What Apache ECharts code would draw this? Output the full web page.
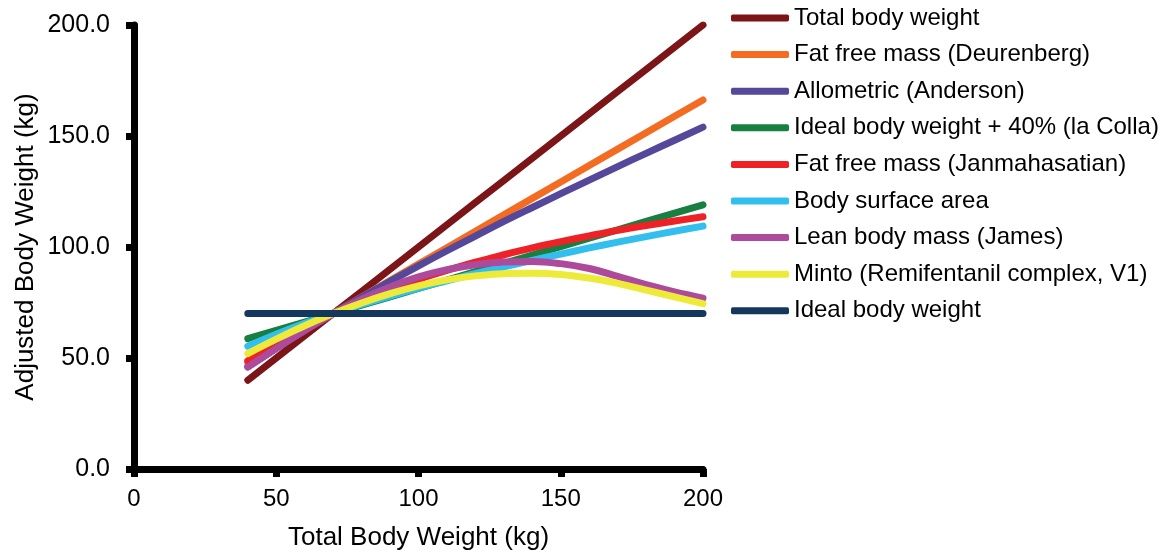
<!DOCTYPE html>
<html>
<head>
<meta charset="utf-8">
<script src="https://cdn.jsdelivr.net/npm/echarts@6/dist/echarts.min.js"></script>
<style>
html,body{margin:0;padding:0;background:#fff;}
#chart{width:1163px;height:559px;}
</style>
</head>
<body>
<div id="chart"></div>
<script>
// Total body weight (kg) on the x axis
const weights = [40, 50, 60, 70, 80, 90, 100, 110, 120, 130, 140, 150, 160, 170, 180, 190, 200];

const seriesNames = [
  'Total body weight',
  'Fat free mass (Deurenberg)',
  'Allometric (Anderson)',
  'Ideal body weight + 40% (la Colla)',
  'Fat free mass (Janmahasatian)',
  'Body surface area',
  'Lean body mass (James)',
  'Minto (Remifentanil complex, V1)',
  'Ideal body weight'
];

const totalBodyWeight = [40, 50, 60, 70, 80, 90, 100, 110, 120, 130, 140, 150, 160, 170, 180, 190, 200];
const ffmDeurenberg   = [47.8, 55.2, 62.6, 70, 77.5, 84.9, 92.3, 99.7, 107.1, 114.5, 121.9, 129.3, 136.7, 144.1, 151.5, 158.9, 166.2];
const allometric      = [46.0, 54.4, 62.4, 70, 77.4, 84.5, 91.5, 98.3, 104.9, 111.5, 117.8, 124.0, 130.1, 136.2, 142.2, 148.1, 154.0];
const ibwPlus40       = [58.7, 62.5, 66.2, 70, 73.8, 77.5, 81.3, 85.1, 88.9, 92.6, 96.4, 100.2, 104.0, 107.7, 111.5, 115.3, 119.0];
const ffmJanmahasatian= [48.7, 57.0, 64.0, 70, 76.0, 81.0, 85.5, 89.5, 93.2, 96.5, 99.6, 102.4, 105.0, 107.5, 109.7, 111.7, 113.6];
const bodySurfaceArea = [55.3, 60.7, 65.6, 70, 74.1, 77.9, 81.5, 84.8, 88.1, 91.1, 94.0, 96.8, 99.6, 102.2, 104.7, 107.1, 109.4];
const lbmJames        = [45.9, 54.3, 62.4, 70, 76.5, 82.0, 86.5, 89.8, 92.0, 93.2, 93.5, 92.5, 90.3, 86.8, 83.0, 79.8, 77.0];
const mintoV1         = [52.0, 58.5, 64.5, 70, 74.8, 79.0, 82.5, 85.2, 87.0, 88.0, 88.2, 87.6, 86.0, 83.6, 80.6, 77.5, 74.5];
const idealBodyWeight = [70, 70, 70, 70, 70, 70, 70, 70, 70, 70, 70, 70, 70, 70, 70, 70, 70];

const seriesValues = [totalBodyWeight, ffmDeurenberg, allometric, ibwPlus40, ffmJanmahasatian,
                      bodySurfaceArea, lbmJames, mintoV1, idealBodyWeight];
const seriesColors = ['#7B1518', '#F36C21', '#55489B', '#177F3F', '#EE2226',
                      '#33BFEE', '#AD4A9B', '#EEEA3A', '#14375D'];
const smoothFlags = [false, false, true, false, true, true, true, true, false];

const xTicks = [0, 50, 100, 150, 200];
const yTicks = [0, 50, 100, 150, 200];

const FONT = '"Liberation Sans", Arial, sans-serif';

const chart = echarts.init(document.getElementById('chart'), null, {renderer: 'canvas'});

const series = seriesNames.map((name, i) => ({
  name: name,
  type: 'line',
  data: weights.map((w, j) => [w, seriesValues[i][j]]),
  showSymbol: false,
  symbol: 'none',
  smooth: smoothFlags[i] ? 0.4 : false,
  color: seriesColors[i],
  lineStyle: {width: 7, color: seriesColors[i], cap: 'round', join: 'round'},
  emphasis: {disabled: true},
  animation: false
}));

chart.setOption({
  animation: false,
  backgroundColor: '#ffffff',
  grid: {left: 134, right: 460, top: 25, bottom: 90, containLabel: false},
  xAxis: {
    type: 'value',
    min: xTicks[0],
    max: xTicks[xTicks.length - 1],
    interval: xTicks[1] - xTicks[0],
    name: 'Total Body Weight (kg)',
    nameLocation: 'middle',
    nameGap: 56,
    nameTextStyle: {fontSize: 26, color: '#000', fontFamily: FONT},
    axisLine: {show: true, lineStyle: {color: '#000', width: 7}},
    axisTick: {show: true, length: 8, lineStyle: {color: '#000', width: 7}},
    axisLabel: {fontSize: 24, color: '#000', fontFamily: FONT, margin: 18},
    splitLine: {show: false}
  },
  yAxis: {
    type: 'value',
    min: yTicks[0],
    max: yTicks[yTicks.length - 1],
    interval: yTicks[1] - yTicks[0],
    name: 'Adjusted Body Weight (kg)',
    nameLocation: 'middle',
    nameGap: 95,
    nameTextStyle: {fontSize: 26, color: '#000', fontFamily: FONT},
    axisLine: {show: true, lineStyle: {color: '#000', width: 7}},
    axisTick: {show: true, length: 8, lineStyle: {color: '#000', width: 7}},
    axisLabel: {fontSize: 25, color: '#000', fontFamily: FONT, margin: 24,
                formatter: v => v.toFixed(1)},
    splitLine: {show: false}
  },
  legend: {
    orient: 'vertical',
    left: 731,
    top: 6,
    icon: 'roundRect',
    itemWidth: 58,
    itemHeight: 7,
    itemGap: 12.6,
    padding: 0,
    selectedMode: false,
    data: seriesNames,
    textStyle: {fontSize: 24, color: '#000', fontFamily: FONT, lineHeight: 24}
  },
  series: series
});
</script>
</body>
</html>
